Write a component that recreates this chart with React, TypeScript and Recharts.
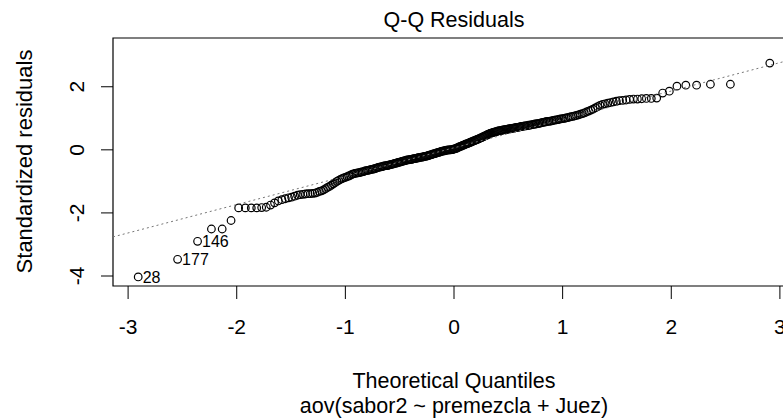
import { ScatterChart, Scatter, XAxis, YAxis, ReferenceArea } from 'recharts'

// sorted standardized residuals (n = 274)
const RESIDUALS = [
  -4.03, -3.47, -2.90, -2.51, -2.51, -2.24, -1.84, -1.84, -1.84, -1.84,
  -1.83, -1.82, -1.75, -1.68, -1.62, -1.58, -1.55, -1.52, -1.50, -1.47,
  -1.44, -1.42, -1.41, -1.40, -1.39, -1.39, -1.38, -1.37, -1.35, -1.32,
  -1.30, -1.27, -1.23, -1.19, -1.16, -1.12, -1.08, -1.04, -1.00, -0.97,
  -0.94, -0.91, -0.89, -0.87, -0.85, -0.83, -0.81, -0.78, -0.76, -0.75,
  -0.74, -0.73, -0.72, -0.71, -0.70, -0.69, -0.67, -0.66, -0.65, -0.64,
  -0.63, -0.62, -0.61, -0.60, -0.59, -0.57, -0.56, -0.55, -0.54, -0.53,
  -0.52, -0.51, -0.50, -0.50, -0.49, -0.48, -0.47, -0.46, -0.45, -0.44,
  -0.43, -0.42, -0.41, -0.40, -0.39, -0.38, -0.37, -0.36, -0.35, -0.34,
  -0.33, -0.32, -0.32, -0.31, -0.30, -0.30, -0.29, -0.28, -0.28, -0.27,
  -0.26, -0.25, -0.25, -0.24, -0.23, -0.23, -0.22, -0.21, -0.21, -0.20,
  -0.19, -0.18, -0.17, -0.16, -0.15, -0.14, -0.13, -0.12, -0.11, -0.10,
  -0.09, -0.08, -0.07, -0.06, -0.05, -0.04, -0.03, -0.03, -0.02, -0.01,
  -0.01, 0.00, 0.00, 0.00, 0.01, 0.01, 0.02,
  0.03, 0.04, 0.05, 0.07, 0.08, 0.10, 0.11, 0.12, 0.14, 0.15, 0.16, 0.18, 0.19,
  0.20, 0.21, 0.23, 0.24, 0.25, 0.27, 0.28, 0.29, 0.31, 0.32,
  0.33, 0.35, 0.36, 0.38, 0.39, 0.41, 0.42, 0.44, 0.45, 0.47,
  0.49, 0.50, 0.52, 0.53, 0.54, 0.55, 0.56, 0.57, 0.58, 0.59,
  0.60, 0.61, 0.61, 0.62, 0.63, 0.63, 0.64, 0.65, 0.65, 0.66,
  0.67, 0.67, 0.68, 0.69, 0.69, 0.70, 0.71, 0.71, 0.72, 0.73,
  0.74, 0.74, 0.75, 0.76, 0.76, 0.77, 0.78, 0.78, 0.79, 0.80,
  0.81, 0.82, 0.82, 0.83, 0.84, 0.85, 0.86, 0.87, 0.88, 0.89,
  0.90, 0.90, 0.91, 0.92, 0.93,
  0.94, 0.95, 0.96, 0.97, 0.98, 0.99, 1.00, 1.01, 1.02, 1.04,
  1.05, 1.06, 1.08, 1.09, 1.11, 1.13, 1.15, 1.17, 1.20, 1.23,
  1.26, 1.29, 1.33, 1.37, 1.41, 1.44, 1.46, 1.48, 1.50, 1.52,
  1.54, 1.56, 1.57, 1.58, 1.60, 1.61, 1.61, 1.62, 1.63, 1.63, 1.64,
  1.80, 1.86, 2.02, 2.05, 2.05, 2.08, 2.08, 2.75,
]

// observation ids that R labels, by rank
const ID_LABELS = [
  { rank: 1, id: '28' },
  { rank: 2, id: '177' },
  { rank: 3, id: '146' },
]

// qqline endpoints at the plot edges
const QQLINE = [
  { x: -3.139, y: -2.76 },
  { x: 3.139, y: 2.89 },
]

const X_TICKS = [-3, -2, -1, 0, 1, 2, 3]
const Y_TICKS = [-4, -2, 0, 2]
const X_DOMAIN = [-3.139, 3.139]
const Y_DOMAIN = [-4.317, 3.546]

const FONT = '"Liberation Sans", Arial, sans-serif'

// inverse normal cdf (Acklam)
function qnorm(p: number) {
  const a = [-39.69683028665376, 220.9460984245205, -275.9285104469687, 138.357751867269, -30.66479806614716, 2.506628277459239]
  const b = [-54.47609879822406, 161.5858368580409, -155.6989798598866, 66.80131188771972, -13.28068155288572]
  const c = [-0.007784894002430293, -0.3223964580411365, -2.400758277161838, -2.549732539343734, 4.374664141464968, 2.938163982698783]
  const d = [0.007784695709041462, 0.3224671290700398, 2.445134137142996, 3.754408661907416]
  const lo = 0.02425
  if (p < lo) {
    const q = Math.sqrt(-2 * Math.log(p))
    return (((((c[0] * q + c[1]) * q + c[2]) * q + c[3]) * q + c[4]) * q + c[5]) / ((((d[0] * q + d[1]) * q + d[2]) * q + d[3]) * q + 1)
  }
  if (p > 1 - lo) return -qnorm(1 - p)
  const q = p - 0.5
  const r = q * q
  return (((((a[0] * r + a[1]) * r + a[2]) * r + a[3]) * r + a[4]) * r + a[5]) * q / (((((b[0] * r + b[1]) * r + b[2]) * r + b[3]) * r + b[4]) * r + 1)
}

const n = RESIDUALS.length
const points = RESIDUALS.map((y, i) => ({
  x: qnorm((i + 1 - 0.5) / n),
  y,
  label: ID_LABELS.find(l => l.rank === i + 1)?.id,
}))

const Circle = (props: any) => {
  const { cx, cy, payload } = props
  return (
    <g>
      <circle cx={cx} cy={cy} r={3.8} fill="none" stroke="#000" strokeWidth={1.2} />
      {payload.label && (
        <text x={cx + 4.5} y={cy + 6} fontSize={16} fontFamily={FONT} fill="#000">{payload.label}</text>
      )}
    </g>
  )
}

const XTick = (props: any) => (
  <text x={props.x} y={334} textAnchor="middle" fontSize={21} fontFamily={FONT} fill="#000">{props.payload.value}</text>
)

const YTick = (props: any) => (
  <text x={84} y={props.y} transform={`rotate(-90, 84, ${props.y})`} textAnchor="middle" fontSize={21} fontFamily={FONT} fill="#000">{props.payload.value}</text>
)

export default function App() {
  return (
    <div style={{ position: 'fixed', left: 0, top: 0, width: 783, height: 418, overflow: 'hidden', background: '#fff' }}>
      <ScatterChart width={800} height={418} margin={{ top: 38, right: 5, bottom: 0, left: 0 }}>
        <XAxis dataKey="x" type="number" domain={X_DOMAIN} ticks={X_TICKS} allowDataOverflow interval={0}
          height={132} tickSize={13} axisLine={false} tickLine={{ stroke: '#000' }} tick={<XTick />} />
        <YAxis dataKey="y" type="number" domain={Y_DOMAIN} ticks={Y_TICKS} allowDataOverflow interval={0}
          width={113} tickSize={12} axisLine={false} tickLine={{ stroke: '#000' }} tick={<YTick />} />
        <ReferenceArea x1={X_DOMAIN[0]} x2={X_DOMAIN[1]} y1={Y_DOMAIN[0]} y2={Y_DOMAIN[1]}
          fill="none" fillOpacity={0} stroke="#000" strokeWidth={1.2} ifOverflow="visible" />
        <Scatter data={points} shape={<Circle />} isAnimationActive={false} />
        <Scatter data={QQLINE} shape={() => <g />} line={{ stroke: '#777', strokeWidth: 1, strokeDasharray: '2 3' }}
          isAnimationActive={false} />
      </ScatterChart>
      <svg width={783} height={418} style={{ position: 'absolute', left: 0, top: 0, pointerEvents: 'none' }}>
        <g fontFamily={FONT} fontSize={21.5} fill="#000" textAnchor="middle">
          <text x={454} y={27}>Q-Q Residuals</text>
          <text x={32} y={161.5} fontSize={22} transform="rotate(-90, 32, 161.5)">Standardized residuals</text>
          <text x={454} y={388}>Theoretical Quantiles</text>
          <text x={454} y={413}>aov(sabor2 ~ premezcla + Juez)</text>
        </g>
      </svg>
    </div>
  )
}
